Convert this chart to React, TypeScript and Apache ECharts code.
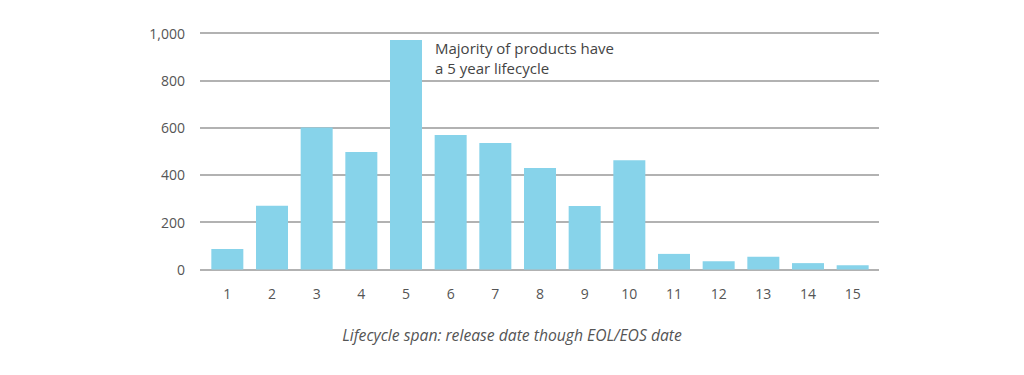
import React, { useEffect, useRef } from "react";
import * as echarts from "echarts";

const categories = ["1", "2", "3", "4", "5", "6", "7", "8", "9", "10", "11", "12", "13", "14", "15"];
const products = [87, 270, 600, 497, 970, 569, 535, 429, 268, 462, 66, 35, 54, 27, 18];
const yTicks = [0, 200, 400, 600, 800, 1000];
const annotationLines = ["Majority of products have", "a 5 year lifecycle"];
const caption = "Lifecycle span: release date though EOL/EOS date";

export default function App() {
  const ref = useRef<HTMLDivElement>(null);
  useEffect(() => {
    if (!ref.current) return;
    const chart = echarts.init(ref.current, null, { renderer: "svg" });
    const font = "Open Sans";
    chart.setOption({
      animation: false,
      grid: [
        { left: 200, width: 679, top: 33, bottom: 105.5, containLabel: false },
        { left: 205, width: 670, top: 33, bottom: 105.5, containLabel: false },
      ],
      xAxis: [
        { type: "category", gridIndex: 0, data: categories, show: false },
        {
          type: "category",
          gridIndex: 1,
          data: categories,
          axisLine: { show: false },
          axisTick: { show: false },
          axisLabel: { color: "#555", fontFamily: font, fontSize: 14, margin: 17 },
        },
      ],
      yAxis: [
        {
          type: "value",
          gridIndex: 0,
          min: yTicks[0],
          max: yTicks[yTicks.length - 1],
          interval: 200,
          axisLine: { show: false },
          axisTick: { show: false },
          splitLine: { lineStyle: { color: "#999", width: 1.6 } },
          axisLabel: {
            color: "#555",
            fontFamily: font,
            fontSize: 14,
            margin: 15,
            formatter: (v: number) => v.toLocaleString("en-US"),
          },
        },
        {
          type: "value",
          gridIndex: 1,
          min: yTicks[0],
          max: yTicks[yTicks.length - 1],
          interval: 200,
          show: false,
        },
      ],
      series: [
        {
          type: "bar",
          xAxisIndex: 1,
          yAxisIndex: 1,
          data: products,
          barWidth: 32,
          itemStyle: { color: "#87D3EA" },
          z: 3,
        },
      ],
      graphic: [
        {
          type: "text",
          left: 435,
          top: 38,
          style: {
            text: annotationLines.join("\n"),
            fill: "#444",
            fontFamily: font,
            fontSize: 15,
            lineHeight: 20,
          },
          z: 10,
        },
        {
          type: "text",
          left: "center",
          top: 327,
          style: {
            text: caption,
            fill: "#555",
            fontFamily: font,
            fontStyle: "italic",
            fontSize: 15.7,
          },
        },
      ],
    });
    return () => chart.dispose();
  }, []);
  return (
    <div
      ref={ref}
      style={{ position: "absolute", left: 0, top: 0, width: 1024, height: 375, background: "#fff" }}
    />
  );
}
